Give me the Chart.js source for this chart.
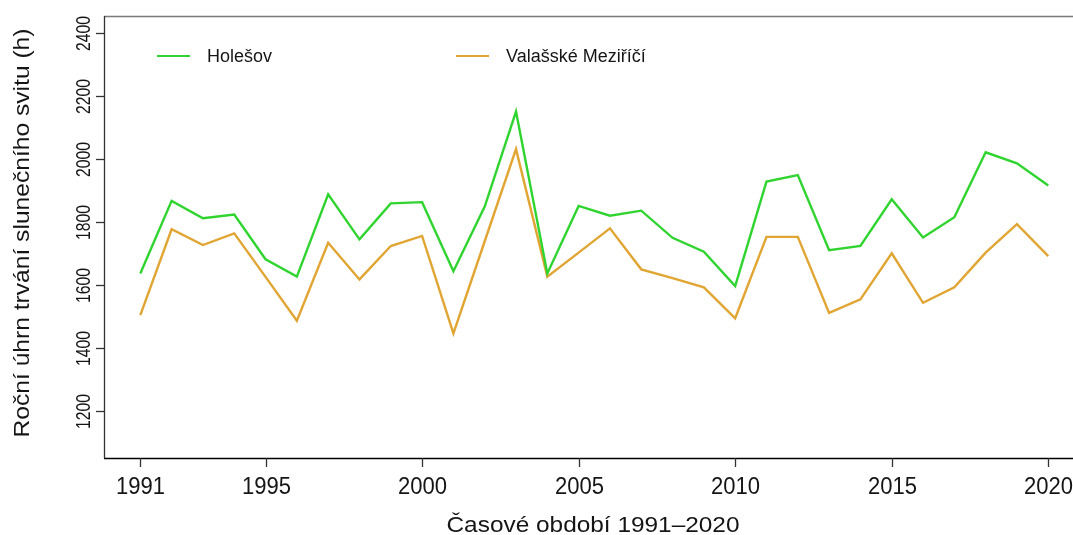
<!DOCTYPE html>
<html lang="cs">
<head>
<meta charset="utf-8">
<title>Roční úhrn trvání slunečního svitu</title>
<script src="https://cdn.jsdelivr.net/npm/chart.js@4/dist/chart.umd.min.js"></script>
<style>
  html, body { margin: 0; padding: 0; background: #fff; overflow: hidden; }
  #sunChart { display: block; }
</style>
</head>
<body>
<canvas id="sunChart" width="1073" height="535"></canvas>
<script>
// annual sunshine totals (hours), 1991–2020
const years = [1991, 1992, 1993, 1994, 1995, 1996, 1997, 1998, 1999, 2000,
               2001, 2002, 2003, 2004, 2005, 2006, 2007, 2008, 2009, 2010,
               2011, 2012, 2013, 2014, 2015, 2016, 2017, 2018, 2019, 2020];
const holesov = [1637, 1867, 1812, 1824, 1682, 1627, 1888, 1745, 1859, 1863,
                 1644, 1849, 2150, 1637, 1851, 1820, 1836, 1750, 1706, 1597,
                 1928, 1949, 1711, 1724, 1872, 1751, 1815, 2021, 1986, 1916];
const valMez = [1505, 1777, 1727, 1764, 1626, 1487, 1734, 1618, 1724, 1756,
                1447, 1739, 2031, 1627, 1703, 1780, 1650, 1622, 1593, 1495,
                1753, 1753, 1512, 1555, 1701, 1544, 1593, 1703, 1793, 1692];
const xTicks = [1991, 1995, 2000, 2005, 2010, 2015, 2020];
const yTicks = [1200, 1400, 1600, 1800, 2000, 2200, 2400];
const seriesNames = ['Holešov', 'Valašské Meziříčí'];
const seriesColors = ['#2fd42f', '#e0a532'];

const FONT = '"Liberation Sans", Arial, sans-serif';
const INK = '#151515';

function toPoints(vals) {
    return years.map((yr, i) => ({ x: yr, y: vals[i] }));
}

// text squeezed/stretched along its baseline to a given scale
function drawText(ctx, str, x, y, size, sx, rot) {
    ctx.save();
    ctx.translate(x, y);
    if (rot) ctx.rotate(rot);
    ctx.scale(sx, 1);
    ctx.font = size + 'px ' + FONT;
    ctx.fillText(str, 0, 0);
    ctx.restore();
}

function fitScale(ctx, str, size, width) {
    ctx.font = size + 'px ' + FONT;
    return width / ctx.measureText(str).width;
}

// R-style box, axes, ticks, titles and legend
const baseAxes = {
    id: 'baseAxes',
    afterDraw(chart) {
        const { ctx, chartArea: a, scales: { x, y } } = chart;
        ctx.save();
        ctx.lineWidth = 1.3;

        // frame
        ctx.strokeStyle = '#7a7a7a';
        ctx.beginPath();
        ctx.moveTo(a.left, a.top + 0.5);
        ctx.lineTo(a.right, a.top + 0.5);
        ctx.stroke();
        ctx.strokeStyle = '#333';
        ctx.beginPath();
        ctx.moveTo(a.left + 0.5, a.top);
        ctx.lineTo(a.left + 0.5, a.bottom);
        ctx.stroke();
        ctx.strokeStyle = '#000';
        ctx.beginPath();
        ctx.moveTo(a.left, a.bottom + 0.5);
        ctx.lineTo(a.right, a.bottom + 0.5);
        ctx.stroke();

        ctx.fillStyle = INK;

        // x axis ticks and labels
        ctx.strokeStyle = '#333';
        ctx.textAlign = 'center';
        ctx.textBaseline = 'alphabetic';
        xTicks.forEach(v => {
            const px = Math.round(x.getPixelForValue(v)) + 0.5;
            ctx.beginPath();
            ctx.moveTo(px, a.bottom);
            ctx.lineTo(px, a.bottom + 9);
            ctx.stroke();
            drawText(ctx, String(v), px, 494, 23.5, fitScale(ctx, String(v), 23.5, 49));
        });

        // y axis ticks and rotated labels
        yTicks.forEach(v => {
            const py = Math.round(y.getPixelForValue(v)) + 0.5;
            ctx.beginPath();
            ctx.moveTo(a.left, py);
            ctx.lineTo(a.left - 8, py);
            ctx.stroke();
            drawText(ctx, String(v), 90, py, 20, fitScale(ctx, String(v), 20, 35), -Math.PI / 2);
        });

        // axis titles
        const xTitle = 'Časové období 1991–2020';
        drawText(ctx, xTitle, 593, 532, 22, fitScale(ctx, xTitle, 22, 293));
        const yTitle = 'Roční úhrn trvání slunečního svitu (h)';
        drawText(ctx, yTitle, 29, 233, 21.5, fitScale(ctx, yTitle, 21.5, 409), -Math.PI / 2);

        // legend
        const legendX = [157, 456];
        ctx.textAlign = 'left';
        ctx.lineWidth = 2;
        seriesNames.forEach((name, i) => {
            ctx.strokeStyle = seriesColors[i];
            ctx.beginPath();
            ctx.moveTo(legendX[i], 56);
            ctx.lineTo(legendX[i] + 33, 56);
            ctx.stroke();
            drawText(ctx, name, legendX[i] + 50, 62, 18, 1);
        });

        ctx.restore();
    }
};

new Chart(document.getElementById('sunChart'), {
    type: 'line',
    data: {
        datasets: [
            { label: seriesNames[0], data: toPoints(holesov), borderColor: seriesColors[0] },
            { label: seriesNames[1], data: toPoints(valMez), borderColor: seriesColors[1] }
        ]
    },
    options: {
        responsive: false,
        animation: false,
        layout: { padding: { left: 104, top: 16, right: 0, bottom: 77 } },
        elements: {
            line: { borderWidth: 2.4, tension: 0, fill: false },
            point: { radius: 0 }
        },
        scales: {
            x: { type: 'linear', min: 1989.84, max: 2020.79, display: false },
            y: { type: 'linear', min: 1052, max: 2453, display: false }
        },
        plugins: {
            legend: { display: false },
            tooltip: { enabled: false }
        }
    },
    plugins: [baseAxes]
});
</script>
</body>
</html>
